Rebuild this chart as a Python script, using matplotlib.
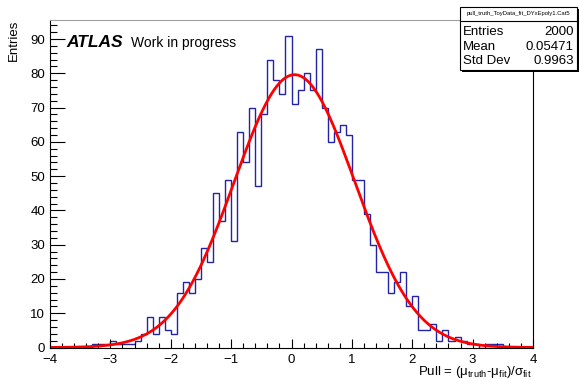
import numpy as np
import matplotlib
matplotlib.use("Agg")
import matplotlib.pyplot as plt
from matplotlib.patches import Rectangle
from matplotlib.lines import Line2D
from matplotlib.ticker import MultipleLocator

plt.rcParams['font.family'] = ['Liberation Sans', 'DejaVu Sans']
plt.rcParams['mathtext.fontset'] = 'custom'
plt.rcParams['mathtext.rm'] = 'Liberation Sans'
plt.rcParams['mathtext.it'] = 'Liberation Sans:italic'

# histogram: 80 bins of 0.1 from -4 to 4
bin_lo, bin_hi, n_bins = -4.0, 4.0, 80
counts = [
    0, 0, 0, 0, 0, 0, 0,            # -4.0 .. -3.4
    1, 1, 1, 2, 1, 1, 1, 2,         # -3.3 .. -2.6
    4, 9, 4, 9, 5, 4,               # -2.5 .. -2.0
    16, 19, 16, 20, 29, 25, 45, 37, 49, 31,   # -1.9 .. -1.0
    63, 54, 70, 47, 68, 84, 78, 74, 91,       # -0.9 .. -0.1
    71, 75, 80, 75, 87, 70, 60, 63, 65, 62,   # 0.0 .. 0.9
    49, 49, 39, 30, 22, 22, 16, 19, 22, 12,   # 1.0 .. 1.9
    15, 5, 5, 7, 2, 5, 2, 3, 2, 1,            # 2.0 .. 2.9
    1, 0, 1, 1, 1, 0, 0, 0, 0, 0,             # 3.0 .. 3.9
]

# gaussian fit parameters
fit_const = 79.6
fit_mean = 0.05
fit_sigma = 1.0

stats_title = "pull_truth_ToyData_fit_DYxEpoly1.Cat5"
stats_rows = [("Entries", "2000"), ("Mean", "0.05471"), ("Std Dev", "0.9963")]

W, H = 579, 379
fig = plt.figure(figsize=(W / 100, H / 100), dpi=100)
ax = fig.add_axes([50 / W, 1 - 347.5 / H, 483 / W, 327.5 / H])

edges = np.linspace(bin_lo, bin_hi, n_bins + 1)
ax.stairs(counts, edges, baseline=0, color='#2323a5', linewidth=1.0)

xf = np.linspace(bin_lo, bin_hi, 400)
yf = fit_const * np.exp(-0.5 * ((xf - fit_mean) / fit_sigma) ** 2)
ax.plot(xf, yf, color='#ff0000', linewidth=2.0)

ax.set_xlim(-4, 4)
ax.set_ylim(0, 95.55)
ax.xaxis.set_major_locator(MultipleLocator(1))
ax.xaxis.set_minor_locator(MultipleLocator(0.2))
ax.yaxis.set_major_locator(MultipleLocator(10))
ax.yaxis.set_minor_locator(MultipleLocator(2))
ax.tick_params(axis='x', which='major', direction='in', length=6.5, width=0.8,
               labelsize=9.5, pad=4.5)
ax.tick_params(axis='x', which='minor', direction='in', length=3.3, width=0.8)
ax.tick_params(axis='y', which='major', direction='in', length=11, width=0.8,
               labelsize=9.5, pad=3.5)
ax.tick_params(axis='y', which='minor', direction='in', length=5, width=0.8)
for s in ['left', 'bottom', 'right']:
    ax.spines[s].set_linewidth(0.8)
ax.spines['top'].set_color('#a0a0a0')

fig.text(14 / W, 1 - 20 / H, 'Entries', rotation=90, ha='center', va='top', fontsize=9.5)
fig.text(532 / W, 1 - 375.5 / H,
         r'Pull = ($\mathregular{\mu_{truth}}$-$\mathregular{\mu_{fit}}$)/$\mathregular{\sigma_{fit}}$',
         ha='right', va='baseline', fontsize=9.5)

fig.text(66 / W, 1 - 47 / H, 'ATLAS', fontsize=12.5, fontweight='bold', fontstyle='italic',
         ha='left', va='baseline')
fig.text(131 / W, 1 - 47 / H, 'Work in progress', fontsize=10, ha='left', va='baseline')

# stats box
bx0, bx1, by0, by1 = 460, 577, 7, 70
fig.add_artist(Rectangle((bx0 / W + 2 / W, 1 - (by1 + 2) / H), (bx1 - bx0) / W, (by1 - by0) / H,
                         transform=fig.transFigure, facecolor='black', edgecolor='none'))
fig.add_artist(Rectangle((bx0 / W, 1 - by1 / H), (bx1 - bx0) / W, (by1 - by0) / H,
                         transform=fig.transFigure, facecolor='white', edgecolor='black',
                         linewidth=0.8))
fig.add_artist(Line2D([bx0 / W, bx1 / W], [1 - 21 / H, 1 - 21 / H],
                      transform=fig.transFigure, color='black', linewidth=0.8))
fig.text((bx0 + bx1) / 2 / W, 1 - 14 / H, stats_title, fontsize=4.2, ha='center', va='center')
for i, (name, val) in enumerate(stats_rows):
    yy = 1 - (32 + 14.5 * i) / H
    fig.text((bx0 + 3) / W, yy, name, fontsize=9.5, ha='left', va='center')
    fig.text((bx1 - 3) / W, yy, val, fontsize=9.5, ha='right', va='center')

fig.savefig('out.png', dpi=100)
